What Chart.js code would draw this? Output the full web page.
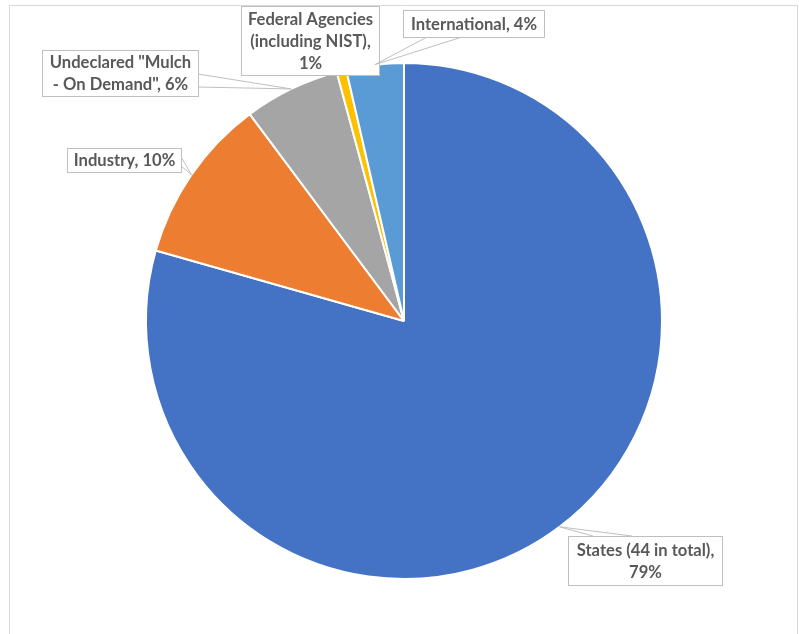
<!DOCTYPE html>
<html>
<head>
<meta charset="utf-8">
<script src="https://cdn.jsdelivr.net/npm/chart.js@4/dist/chart.umd.min.js"></script>
<style>
  html, body { margin: 0; padding: 0; background: #fff; }
  #wrap { position: absolute; left: 0; top: 0; width: 799px; height: 634px; }
</style>
</head>
<body>
<div id="wrap"><canvas id="c" width="799" height="634"></canvas></div>
<script>
// ---- data ----
const categories = [
  'States (44 in total)',
  'Industry',
  'Undeclared "Mulch - On Demand"',
  'Federal Agencies (including NIST)',
  'International'
];
const shares = [79.4, 10.4, 6.0, 0.6, 3.6];
const sliceColors = ['#4472C4', '#ED7D31', '#A5A5A5', '#FFC000', '#5B9BD5'];

// ---- label layout (boxes, pointer bases, words per line) ----
const labelBoxes = [
  { x: 568, y: 536, w: 154, h: 49, words: [4, 1],    base: [[593, 536], [632, 536]] },
  { x: 67,  y: 148, w: 114, h: 24, words: [2],       base: [[181, 157], [181, 166]] },
  { x: 42,  y: 50,  w: 156, h: 46, words: [2, 4],    base: [[198, 74], [198, 87]] },
  { x: 241, y: 6,   w: 138, h: 69, words: [2, 2, 1], base: null },
  { x: 403, y: 10,  w: 141, h: 27, words: [2],       base: [[427, 37], [462, 37]] }
];
const FONT = 'bold 16.6px Lato, "Open Sans", sans-serif';
const TEXT_COLOR = '#595959';
const LINE_COLOR = '#BFBFBF';
const LINE_H = 22;

function splitLines(text, counts) {
  const words = text.split(' ');
  const lines = [];
  let k = 0;
  counts.forEach((n, idx) => {
    const take = idx === counts.length - 1 ? words.length - k : n;
    lines.push(words.slice(k, k + take).join(' '));
    k += take;
  });
  return lines;
}

const calloutPlugin = {
  id: 'callouts',
  beforeDraw(chart) {
    const ctx = chart.ctx;
    ctx.save();
    ctx.strokeStyle = '#D9D9D9';
    ctx.lineWidth = 1;
    ctx.beginPath();
    ctx.moveTo(9.5, 634);
    ctx.lineTo(9.5, 5.5);
    ctx.lineTo(797.5, 5.5);
    ctx.lineTo(797.5, 634);
    ctx.stroke();
    ctx.restore();
  },
  afterDraw(chart) {
    const ctx = chart.ctx;
    const meta = chart.getDatasetMeta(0);
    const data = chart.data.datasets[0].data;
    const total = data.reduce((a, b) => a + b, 0);
    ctx.save();
    ctx.font = FONT;
    meta.data.forEach((arc, i) => {
      const p = arc.getProps(['x', 'y', 'startAngle', 'endAngle', 'outerRadius'], true);
      const mid = (p.startAngle + p.endAngle) / 2;
      const tip = [p.x + Math.cos(mid) * p.outerRadius, p.y + Math.sin(mid) * p.outerRadius];
      const box = labelBoxes[i];
      if (box.base) {
        ctx.beginPath();
        ctx.moveTo(box.base[0][0], box.base[0][1]);
        ctx.lineTo(tip[0], tip[1]);
        ctx.lineTo(box.base[1][0], box.base[1][1]);
        ctx.closePath();
        ctx.fillStyle = '#fff';
        ctx.fill();
        ctx.beginPath();
        ctx.moveTo(box.base[0][0], box.base[0][1]);
        ctx.lineTo(tip[0], tip[1]);
        ctx.lineTo(box.base[1][0], box.base[1][1]);
        ctx.strokeStyle = LINE_COLOR;
        ctx.lineWidth = 1;
        ctx.stroke();
      }
      ctx.fillStyle = '#fff';
      ctx.fillRect(box.x, box.y, box.w, box.h);
      ctx.strokeStyle = LINE_COLOR;
      ctx.lineWidth = 1;
      ctx.strokeRect(box.x + 0.5, box.y + 0.5, box.w, box.h);
      const pct = Math.round(data[i] / total * 100);
      const label = chart.data.labels[i] + ', ' + pct + '%';
      const lines = splitLines(label, box.words);
      ctx.fillStyle = TEXT_COLOR;
      ctx.textAlign = 'center';
      ctx.textBaseline = 'middle';
      const cx = box.x + box.w / 2 + 0.5;
      const cy = box.y + box.h / 2 + 1;
      const y0 = cy - (lines.length - 1) * LINE_H / 2;
      lines.forEach((ln, k) => ctx.fillText(ln, cx, y0 + k * LINE_H));
    });
    ctx.restore();
  }
};

new Chart(document.getElementById('c'), {
  type: 'pie',
  data: {
    labels: categories,
    datasets: [{
      data: shares,
      backgroundColor: sliceColors,
      borderColor: '#FFFFFF',
      borderWidth: 2
    }]
  },
  options: {
    responsive: false,
    animation: false,
    layout: { padding: { left: 145, right: 136, top: 62, bottom: 54 } },
    plugins: {
      legend: { display: false },
      tooltip: { enabled: false }
    }
  },
  plugins: [calloutPlugin]
});
</script>
</body>
</html>
